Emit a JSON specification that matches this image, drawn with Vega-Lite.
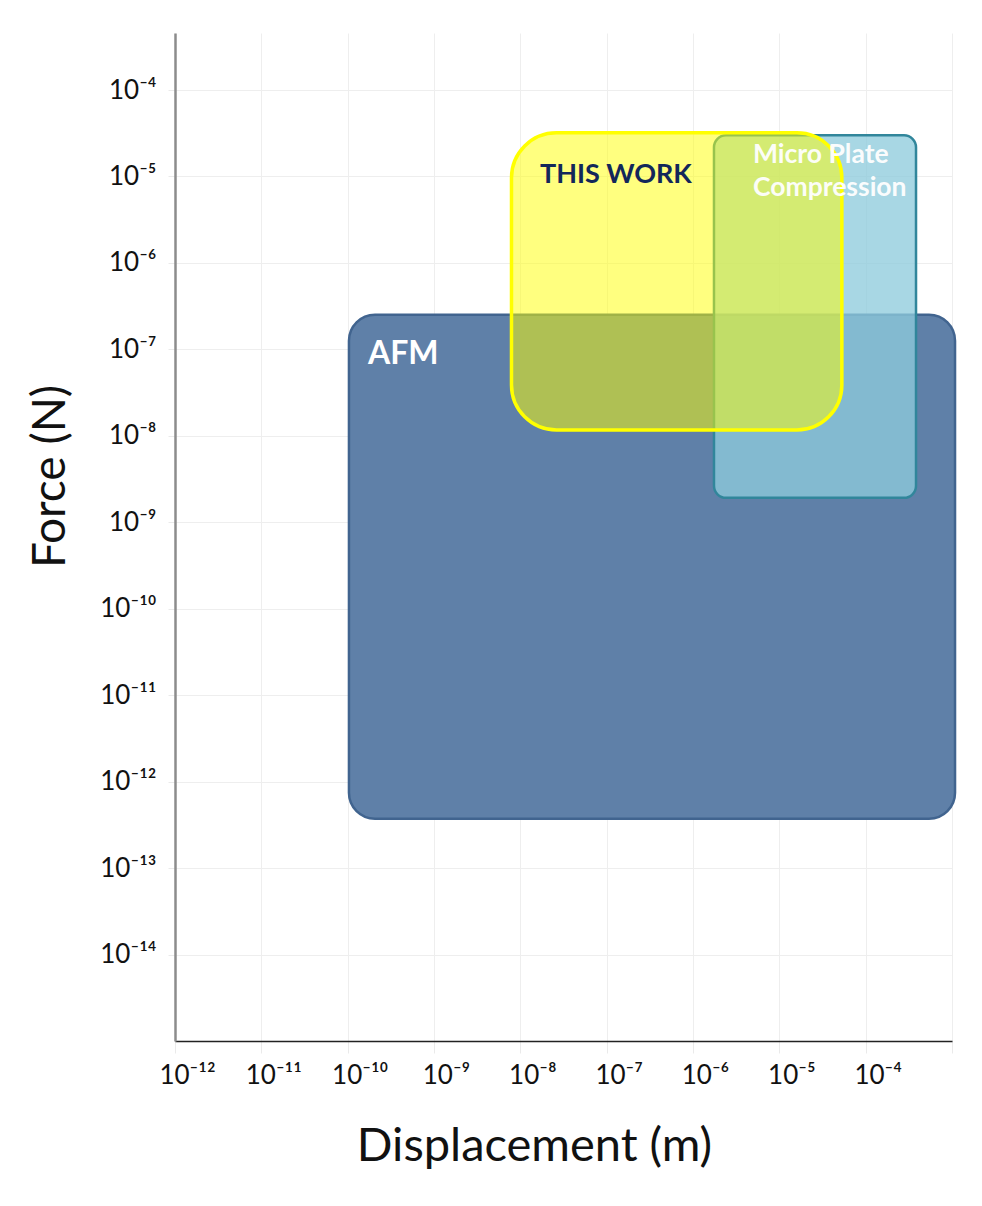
{
  "$schema": "https://vega.github.io/schema/vega-lite/v6.json",
  "width": 777,
  "height": 1008,
  "autosize": {"type": "none"},
  "padding": {"left": 175, "top": 33, "right": 30, "bottom": 165},
  "background": "white",
  "config": {
    "view": {"stroke": null},
    "font": "Lato"
  },
  "datasets": {
    "regions": [
      {"technique": "AFM", "dispMin": 1.035e-10, "dispMax": 1.084e-3, "forceMin": 3.72e-13, "forceMax": 2.51e-7},
      {"technique": "Micro Plate Compression", "dispMin": 1.75e-6, "dispMax": 3.83e-4, "forceMin": 1.92e-9, "forceMax": 3.0e-5},
      {"technique": "THIS WORK", "dispMin": 7.9e-9, "dispMax": 5.3e-5, "forceMin": 1.17e-8, "forceMax": 3.2e-5}
    ],
    "labels": [
      {"technique": "AFM", "text": "AFM", "disp": 1.72e-10, "force": 6.8e-8},
      {"technique": "THIS WORK", "text": "THIS WORK", "disp": 1.69e-8, "force": 8.4e-6},
      {"technique": "Micro Plate Compression", "text": "Micro Plate", "disp": 4.95e-6, "force": 1.45e-5},
      {"technique": "Micro Plate Compression", "text": "Compression", "disp": 4.95e-6, "force": 6.0e-6}
    ]
  },
  "layer": [
    {
      "data": {"name": "regions"},
      "transform": [{"filter": "datum.technique === 'AFM'"}],
      "mark": {"type": "rect", "cornerRadius": 26, "fill": "#5f80a8", "stroke": "#41648f", "strokeWidth": 2.5},
      "encoding": {
        "x": {
          "field": "dispMin", "type": "quantitative",
          "scale": {"type": "log", "domain": [1e-12, 1e-3], "nice": false},
          "axis": {
            "title": "Displacement (m)",
            "values": [1e-12, 1e-11, 1e-10, 1e-9, 1e-8, 1e-7, 1e-6, 1e-5, 1e-4, 1e-3],
            "labelExpr": "round(log(datum.value)/LN10) >= -3 ? '' : '10' + replace(replace(replace(replace(replace(replace(replace(replace(replace(replace(replace('' + round(log(datum.value)/LN10), '-', '⁻'), regexp('0','g'), '⁰'), regexp('1','g'), '¹'), regexp('2','g'), '²'), regexp('3','g'), '³'), regexp('4','g'), '⁴'), regexp('5','g'), '⁵'), regexp('6','g'), '⁶'), regexp('7','g'), '⁷'), regexp('8','g'), '⁸'), regexp('9','g'), '⁹')",
            "labelFont": "Lato", "labelFontSize": 26, "labelColor": "#111111",
            "labelAlign": "center", "labelOffset": 12, "labelPadding": 9,
            "labelFlush": false, "labelOverlap": false,
            "domainColor": "#222222", "domainWidth": 1.5,
            "tickColor": "#eaeaea", "tickSize": 12, "tickWidth": 1,
            "grid": true, "gridColor": "#eeeeee", "gridWidth": 1,
            "titleFont": "Lato", "titleFontSize": 47, "titleFontWeight": "normal", "titleColor": "#111111",
            "titleX": 359, "titleY": 105, "titleAlign": "center", "titleBaseline": "middle"
          }
        },
        "x2": {"field": "dispMax"},
        "y": {
          "field": "forceMin", "type": "quantitative",
          "scale": {"type": "log", "domain": [1e-15, 4.57e-4], "nice": false},
          "axis": {
            "title": "Force (N)",
            "values": [1e-14, 1e-13, 1e-12, 1e-11, 1e-10, 1e-9, 1e-8, 1e-7, 1e-6, 1e-5, 1e-4],
            "labelExpr": "'10' + replace(replace(replace(replace(replace(replace(replace(replace(replace(replace(replace('' + round(log(datum.value)/LN10), '-', '⁻'), regexp('0','g'), '⁰'), regexp('1','g'), '¹'), regexp('2','g'), '²'), regexp('3','g'), '³'), regexp('4','g'), '⁴'), regexp('5','g'), '⁵'), regexp('6','g'), '⁶'), regexp('7','g'), '⁷'), regexp('8','g'), '⁸'), regexp('9','g'), '⁹')",
            "labelFont": "Lato", "labelFontSize": 26, "labelColor": "#111111",
            "labelAlign": "right", "labelBaseline": "middle", "labelPadding": 12,
            "labelFlush": false, "labelOverlap": false,
            "domainColor": "#8c8c8c", "domainWidth": 2.5,
            "tickColor": "#eaeaea", "tickSize": 7, "tickWidth": 1,
            "grid": true, "gridColor": "#eeeeee", "gridWidth": 1,
            "titleFont": "Lato", "titleFontSize": 46, "titleFontWeight": "normal", "titleColor": "#111111",
            "titleAngle": -90, "titleX": -125, "titleY": 443, "titleAlign": "center", "titleBaseline": "middle"
          }
        },
        "y2": {"field": "forceMax"}
      }
    },
    {
      "data": {"name": "regions"},
      "transform": [{"filter": "datum.technique === 'Micro Plate Compression'"}],
      "mark": {"type": "rect", "cornerRadius": 12, "fill": "#8ecbdc", "fillOpacity": 0.77, "stroke": "#31869b", "strokeWidth": 2.5},
      "encoding": {
        "x": {"field": "dispMin", "type": "quantitative"},
        "x2": {"field": "dispMax"},
        "y": {"field": "forceMin", "type": "quantitative"},
        "y2": {"field": "forceMax"}
      }
    },
    {
      "data": {"name": "regions"},
      "transform": [{"filter": "datum.technique === 'THIS WORK'"}],
      "mark": {"type": "rect", "cornerRadius": 45, "fill": "#ffff00", "fillOpacity": 0.5, "stroke": "#ffff00", "strokeWidth": 3.5},
      "encoding": {
        "x": {"field": "dispMin", "type": "quantitative"},
        "x2": {"field": "dispMax"},
        "y": {"field": "forceMin", "type": "quantitative"},
        "y2": {"field": "forceMax"}
      }
    },
    {
      "data": {"name": "labels"},
      "transform": [{"filter": "datum.technique === 'AFM'"}],
      "mark": {"type": "text", "font": "Lato", "fontSize": 32, "fontWeight": "bold", "color": "#ffffff", "align": "left", "baseline": "alphabetic"},
      "encoding": {
        "x": {"field": "disp", "type": "quantitative"},
        "y": {"field": "force", "type": "quantitative"},
        "text": {"field": "text"}
      }
    },
    {
      "data": {"name": "labels"},
      "transform": [{"filter": "datum.technique === 'THIS WORK'"}],
      "mark": {"type": "text", "font": "Lato", "fontSize": 27, "fontWeight": "bold", "color": "#13275a", "align": "left", "baseline": "alphabetic"},
      "encoding": {
        "x": {"field": "disp", "type": "quantitative"},
        "y": {"field": "force", "type": "quantitative"},
        "text": {"field": "text"}
      }
    },
    {
      "data": {"name": "labels"},
      "transform": [{"filter": "datum.technique === 'Micro Plate Compression'"}],
      "mark": {"type": "text", "font": "Lato", "fontSize": 26.5, "fontWeight": "bold", "color": "#ffffff", "opacity": 0.95, "align": "left", "baseline": "alphabetic"},
      "encoding": {
        "x": {"field": "disp", "type": "quantitative"},
        "y": {"field": "force", "type": "quantitative"},
        "text": {"field": "text"}
      }
    }
  ]
}
